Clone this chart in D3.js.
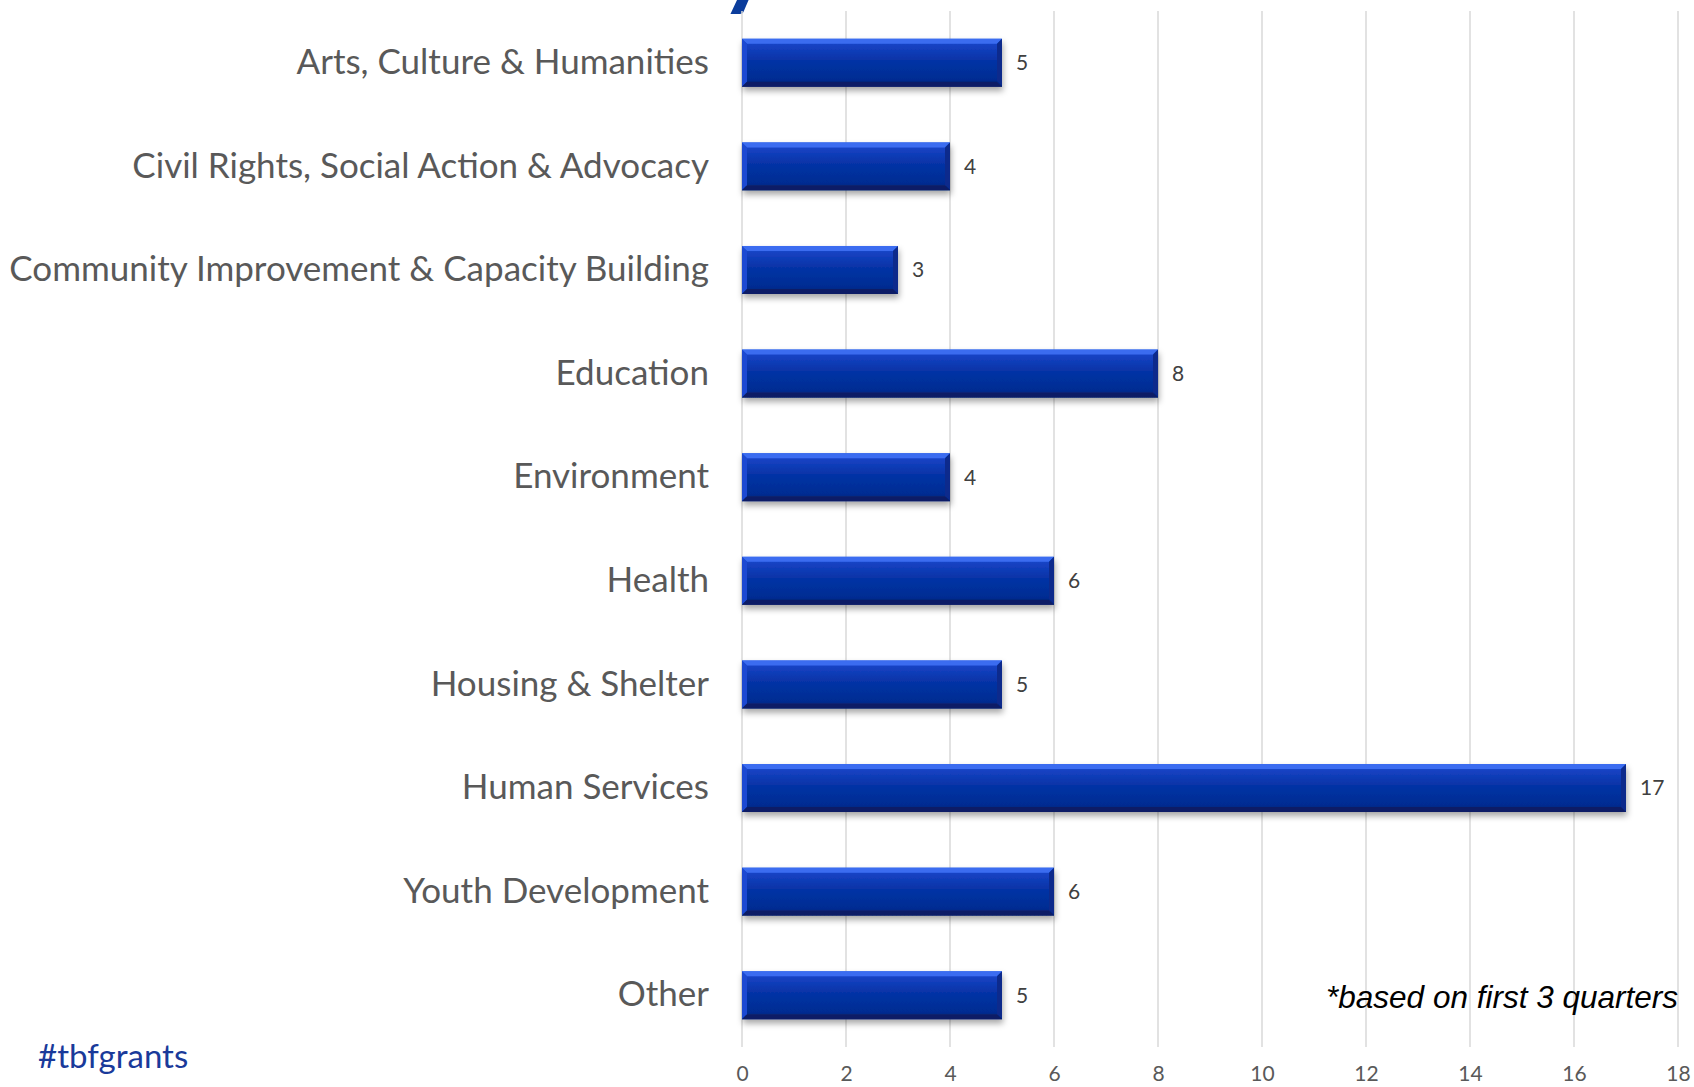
<!DOCTYPE html>
<html>
<head>
<meta charset="utf-8">
<script src="https://cdn.jsdelivr.net/npm/d3@7"></script>
<style>
  body { margin: 0; background: #fff; }
  svg { display: block; }
</style>
</head>
<body>
<div id="barchart"></div>
<script>
// data
var categories = ["Arts, Culture & Humanities", "Civil Rights, Social Action & Advocacy",
  "Community Improvement & Capacity Building", "Education", "Environment", "Health",
  "Housing & Shelter", "Human Services", "Youth Development", "Other"];
var grants = [5, 4, 3, 8, 4, 6, 5, 17, 6, 5];
var xTicks = [0, 2, 4, 6, 8, 10, 12, 14, 16, 18];
var titleText = "Grants by Issue Area";
var footnote = "*based on first 3 quarters";
var hashtag = "#tbfgrants";

var width = 1694, height = 1087;
var plot = {left: 742, right: 1678, top: 11, bottom: 1047};

var svg = d3.select("#barchart")
  .append("svg")
  .attr("width", width)
  .attr("height", height);

var defs = svg.append("defs");
var grad = defs.append("linearGradient")
  .attr("id", "barGrad").attr("x1", 0).attr("y1", 0).attr("x2", 0).attr("y2", 1);
grad.append("stop").attr("offset", "0%").attr("stop-color", "#2a5ee6");
grad.append("stop").attr("offset", "12%").attr("stop-color", "#1743c4");
grad.append("stop").attr("offset", "45%").attr("stop-color", "#0633a6");
grad.append("stop").attr("offset", "85%").attr("stop-color", "#052c92");
grad.append("stop").attr("offset", "100%").attr("stop-color", "#06236f");

var shadow = defs.append("filter").attr("id", "shadow")
  .attr("x", "-5%").attr("y", "-20%").attr("width", "110%").attr("height", "160%");
shadow.append("feDropShadow").attr("dx", 1).attr("dy", 4).attr("stdDeviation", 3)
  .attr("flood-color", "#000").attr("flood-opacity", 0.35);

// title, cut off at the very top (only the descender shows)
var title = svg.append("text")
  .attr("y", -3)
  .attr("font-family", "Lato, 'Open Sans', sans-serif")
  .attr("font-weight", "bold")
  .attr("font-size", 100)
  .attr("fill", "#0b3d9c")
  .text(titleText);
var yIdx = titleText.indexOf("y");
var yStart = title.node().getSubStringLength(0, yIdx);
title.attr("x", 719 - yStart);

// scales
var x = d3.scaleLinear().domain([0, 18]).range([plot.left, plot.right]);
var y = d3.scaleBand().domain(categories).range([plot.top, plot.bottom])
  .paddingInner(0.537).paddingOuter(0.268);

// gridlines
svg.append("g")
  .selectAll("line")
  .data(xTicks)
  .enter()
  .append("line")
  .attr("x1", function(d){ return x(d); })
  .attr("x2", function(d){ return x(d); })
  .attr("y1", plot.top)
  .attr("y2", plot.bottom)
  .attr("stroke", "#d9d9d9")
  .attr("stroke-width", 1.5);

// x axis labels
var xAxis = svg.append("g")
  .attr("transform", "translate(0," + (plot.bottom + 15) + ")")
  .call(d3.axisBottom(x).tickValues(xTicks).tickSize(0).tickPadding(0));
xAxis.select(".domain").remove();
xAxis.selectAll("text")
  .attr("dy", "0.9em")
  .attr("font-family", "Lato, sans-serif")
  .attr("font-size", 21)
  .attr("fill", "#595959");

// category labels
var yAxis = svg.append("g")
  .attr("transform", "translate(" + (plot.left - 33) + ",0)")
  .call(d3.axisLeft(y).tickSize(0).tickPadding(0));
yAxis.select(".domain").remove();
yAxis.selectAll("text")
  .attr("font-family", "Lato, sans-serif")
  .attr("font-size", 35)
  .attr("fill", "#595959");

// bars with bevel
var b = 5;
var bars = svg.append("g")
  .selectAll("g")
  .data(categories)
  .enter()
  .append("g")
  .attr("filter", "url(#shadow)");

bars.append("rect")
  .attr("x", x(0))
  .attr("y", function(d){ return y(d); })
  .attr("width", function(d, i){ return x(grants[i]) - x(0); })
  .attr("height", y.bandwidth())
  .attr("fill", "url(#barGrad)");

function bevel(cls, fill, fn) {
  bars.append("polygon")
    .attr("class", cls)
    .attr("fill", fill)
    .attr("points", function(d, i){
      var x0 = x(0), x1 = x(grants[i]), y0 = y(d), y1 = y(d) + y.bandwidth();
      return fn(x0, x1, y0, y1).map(function(p){ return p.join(","); }).join(" ");
    });
}
bevel("top", "#3a6cf0", function(x0, x1, y0, y1){
  return [[x0, y0], [x1, y0], [x1 - b, y0 + b], [x0 + b, y0 + b]];
});
bevel("left", "#1c4ad2", function(x0, x1, y0, y1){
  return [[x0, y0], [x0 + b, y0 + b], [x0 + b, y1 - b], [x0, y1]];
});
bevel("right", "#072a8c", function(x0, x1, y0, y1){
  return [[x1, y0], [x1, y1], [x1 - b, y1 - b], [x1 - b, y0 + b]];
});
bevel("bottom", "#0a1f66", function(x0, x1, y0, y1){
  return [[x0, y1], [x0 + b, y1 - b], [x1 - b, y1 - b], [x1, y1]];
});

// value labels
svg.append("g")
  .selectAll("text")
  .data(categories)
  .enter()
  .append("text")
  .attr("x", function(d, i){ return x(grants[i]) + 14; })
  .attr("y", function(d){ return y(d) + y.bandwidth() / 2; })
  .attr("dy", "0.35em")
  .attr("font-family", "Lato, sans-serif")
  .attr("font-size", 21)
  .attr("fill", "#404040")
  .text(function(d, i){ return grants[i]; });

// footnote
svg.append("text")
  .attr("x", 1678)
  .attr("y", 1008)
  .attr("text-anchor", "end")
  .attr("font-family", "'Liberation Sans', Arial, sans-serif")
  .attr("font-style", "italic")
  .attr("font-size", 31.5)
  .attr("fill", "#000")
  .text(footnote);

svg.append("text")
  .attr("x", 38)
  .attr("y", 1068)
  .attr("font-family", "Lato, sans-serif")
  .attr("font-size", 33)
  .attr("fill", "#1a3a9a")
  .text(hashtag);
</script>
</body>
</html>
